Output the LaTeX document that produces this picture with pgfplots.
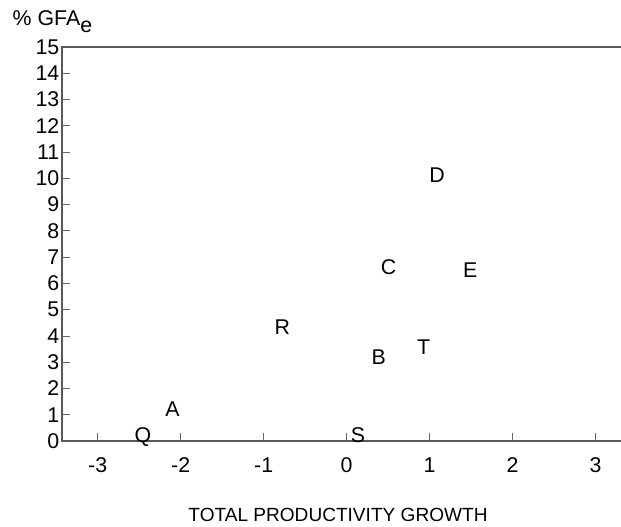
\documentclass[border=0pt]{standalone}
\usepackage{fontspec}
\setmainfont{Liberation Sans}
\usepackage{pgfplots}
\pgfplotsset{compat=1.18}
\begin{document}
\begin{tikzpicture}
\begin{axis}[
  at={(46.5pt,64.5pt)}, anchor=south west,
  scale only axis, width=437.6pt, height=295.5pt,
  xmin=-3.43, xmax=3.6, ymin=0, ymax=15,
  xtick={-3,-2,-1,0,1,2,3}, ytick={0,1,...,15},
  tick align=inside, xtick pos=bottom, ytick pos=left,
  major tick length=6pt,
  tick style={black!60, line width=0.6pt},
  axis line style={black!65, line width=0.9pt},
  font=\fontsize{16}{18}\selectfont,
  /pgf/number format/assume math mode=true,
  xticklabel style={yshift=-9pt},
  yticklabel style={xshift=1.5pt},
  xlabel={TOTAL PRODUCTIVITY GROWTH},
  xlabel style={at={(rel axis cs:0.473,0)}, anchor=base, yshift=-60.75pt, font=\fontsize{14.3}{16}\selectfont},
  clip=false,
]
\addplot[only marks, mark=none, nodes near coords, point meta=explicit symbolic,
  every node near coord/.append style={anchor=center, font=\fontsize{16}{18}\selectfont}]
  table[meta=label]{
x y label
-2.455 0.15 Q
-2.10 1.22 A
0.137 0.23 S
-0.774 4.34 R
0.385 3.2 B
0.927 3.58 T
0.505 6.62 C
1.489 6.51 E
1.088 10.13 D
};
\node[anchor=base west, xshift=-40.5pt, yshift=15.75pt, font=\fontsize{16}{18}\selectfont] at (rel axis cs:0,1) {\% GFA\raisebox{-5pt}{e}};
\end{axis}
\pgfresetboundingbox
\path (0,0) rectangle (465.75pt,395.25pt);
\end{tikzpicture}
\end{document}
